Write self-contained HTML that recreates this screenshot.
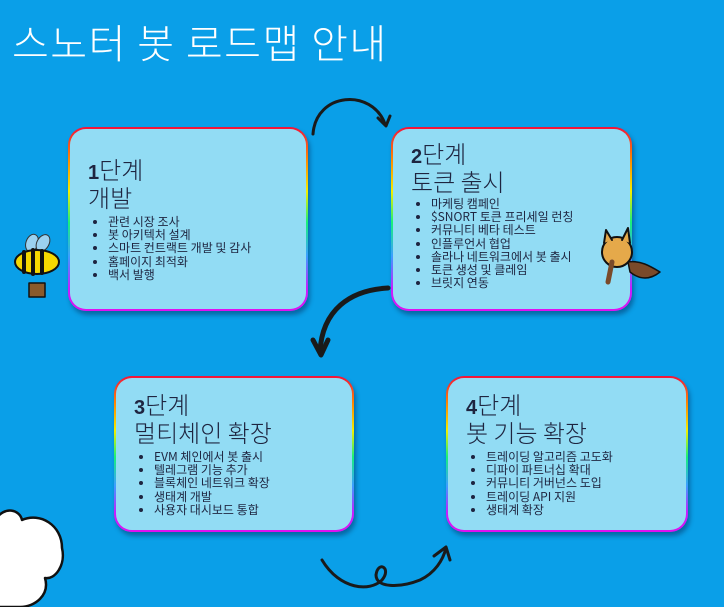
<!DOCTYPE html>
<html><head><meta charset="utf-8"><style>
body{margin:0;width:724px;height:607px;overflow:hidden;background:#0a9fe8;font-family:"Liberation Sans","Noto Sans CJK KR",sans-serif;position:relative}
.t{position:absolute;left:12px;top:12px;color:#fff;font-size:40px;font-family:"Noto Sans CJK KR",sans-serif;font-weight:300;letter-spacing:1.5px}
.b{position:absolute;padding:2px;border-radius:18px;background:linear-gradient(to bottom,#f4123a 0%,#ff8a00 18%,#f4ef00 35%,#19f07a 52%,#3aa0ff 70%,#c81cff 88%,#e010f0 100%);box-shadow:2px 4px 5px rgba(0,0,40,.35)}
.in{width:100%;height:100%;background:#92dcf4;border-radius:16px;box-sizing:border-box;color:#1e2540}
.h{font-family:"Noto Sans CJK KR",sans-serif;font-size:24px;line-height:24px;font-weight:300}
.h b{font-family:"Liberation Sans",sans-serif;font-weight:900;font-size:20px}
ul{margin:6px 0 0 0;padding-left:20px;font-size:12px;line-height:13.2px;font-family:"Noto Sans CJK KR",sans-serif}
</style></head><body>
<div class="t">스노터 봇 로드맵 안내</div>

<div class="b" style="left:68px;top:127px;width:236px;height:180px"><div class="in" style="padding:28px 0 0 18px">
<div class="h"><b>1</b>단계<br>개발</div>
<ul><li>관련 시장 조사</li><li>봇 아키텍처 설계</li><li>스마트 컨트랙트 개발 및 감사</li><li>홈페이지 최적화</li><li>백서 발행</li></ul></div></div>

<div class="b" style="left:391px;top:127px;width:237px;height:180px"><div class="in" style="padding:12px 0 0 18px">
<div class="h"><b>2</b>단계<br>토큰 출시</div>
<ul style="margin-top:4px"><li>마케팅 캠페인</li><li>$SNORT 토큰 프리세일 런칭</li><li>커뮤니티 베타 테스트</li><li>인플루언서 협업</li><li>솔라나 네트워크에서 봇 출시</li><li>토큰 생성 및 클레임</li><li>브릿지 연동</li></ul></div></div>

<div class="b" style="left:114px;top:376px;width:236px;height:152px"><div class="in" style="padding:14px 0 0 18px">
<div class="h"><b>3</b>단계<br>멀티체인 확장</div>
<ul><li>EVM 체인에서 봇 출시</li><li>텔레그램 기능 추가</li><li>블록체인 네트워크 확장</li><li>생태계 개발</li><li>사용자 대시보드 통합</li></ul></div></div>

<div class="b" style="left:446px;top:376px;width:238px;height:152px"><div class="in" style="padding:14px 0 0 18px">
<div class="h"><b>4</b>단계<br>봇 기능 확장</div>
<ul><li>트레이딩 알고리즘 고도화</li><li>디파이 파트너십 확대</li><li>커뮤니티 거버넌스 도입</li><li>트레이딩 API 지원</li><li>생태계 확장</li></ul></div></div>

<svg width="724" height="607" style="position:absolute;left:0;top:0" fill="none" stroke="#1a1a1a" stroke-linecap="round" stroke-linejoin="round">
<path d="M313 134 C316 92 372 88 385 124" stroke-width="3"/>
<path d="M378 118 L386 126 L390 116" stroke-width="3"/>
<path d="M388 288 C350 290 322 310 320 352" stroke-width="5"/>
<path d="M313 340 L321 355 L328 340" stroke-width="5"/>
<path d="M322 560 C340 590 370 592 382 580 C392 568 378 560 376 575 C376 588 400 588 420 580 C435 573 443 560 446 548" stroke-width="3"/>
<path d="M434 556 L446 547 L450 560" stroke-width="3"/>
<path d="M-5 520 C5 505 20 510 22 520 C40 512 62 525 62 548 C66 565 55 580 45 578 C50 595 35 607 20 607 L-5 607 Z" fill="#fff" stroke="#111" stroke-width="2.5"/>
<ellipse cx="32" cy="243" rx="6" ry="9" fill="#9cd2f0" stroke="#333" transform="rotate(20 32 243)"/>
<ellipse cx="43" cy="243" rx="6" ry="9" fill="#9cd2f0" stroke="#333" transform="rotate(30 43 243)"/>
<ellipse cx="37" cy="262" rx="22" ry="12" fill="#f5d800" stroke="#111" stroke-width="2"/>
<path d="M24 252 L24 272 M33 250 L33 274 M42 251 L42 273" stroke="#111" stroke-width="4"/>
<rect x="29" y="283" width="16" height="14" fill="#8a5a2b" stroke="#111" stroke-width="1.5"/>
<circle cx="617" cy="252" r="15" fill="#e5a94a" stroke="#111" stroke-width="2"/>
<path d="M604 243 L606 230 L612 240 M622 240 L628 228 L630 243" fill="#e5a94a" stroke="#111" stroke-width="2"/>
<path d="M628 262 C640 260 650 266 660 272 C650 280 640 280 630 272 Z" fill="#7a4a2a" stroke="#111" stroke-width="1.5"/>
<path d="M612 262 L608 282" stroke="#7a4a2a" stroke-width="5"/>
</svg>
</body></html>
